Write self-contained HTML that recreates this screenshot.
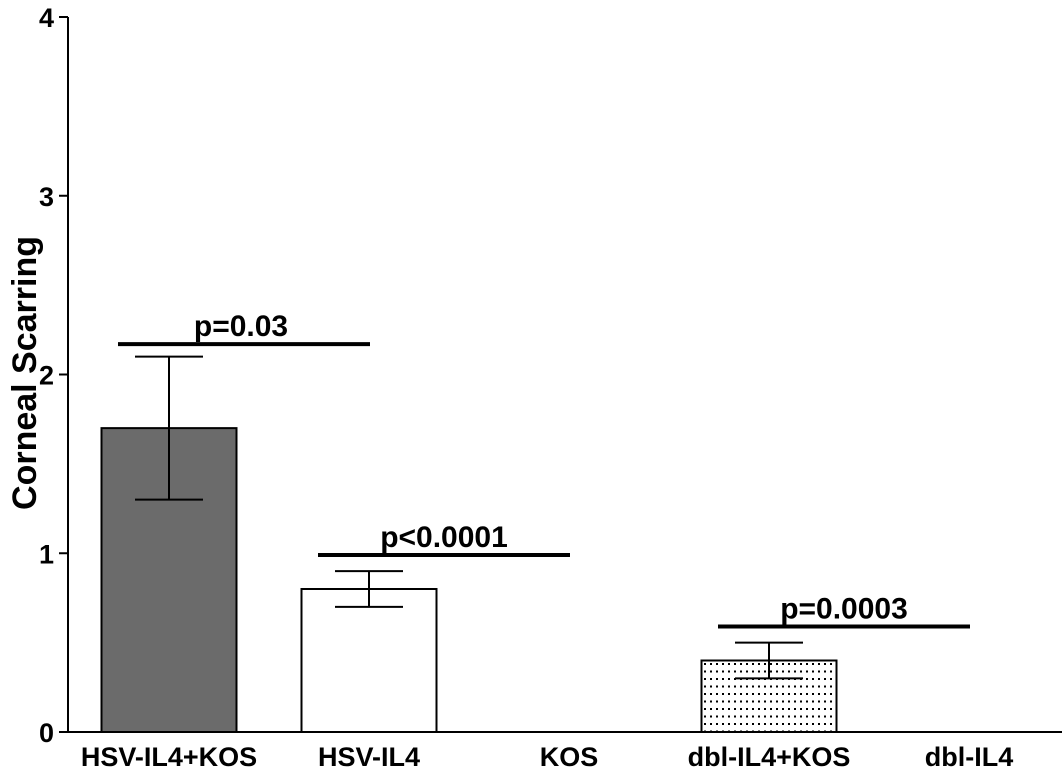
<!DOCTYPE html>
<html><head><meta charset="utf-8"><style>
html,body{margin:0;padding:0;background:#fff;}
svg{display:block;font-family:"Liberation Sans",Arial,sans-serif;font-weight:bold;}
</style></head><body>
<svg id="chart" width="1062" height="771" viewBox="0 0 1062 771">
<defs>
<pattern id="dots" width="6" height="7.5" patternUnits="userSpaceOnUse">
<rect x="2" y="3" width="2" height="2" fill="#000"/>
</pattern>
</defs>
</svg>
<script>
const categories=["HSV-IL4+KOS","HSV-IL4","KOS","dbl-IL4+KOS","dbl-IL4"];
const values=[1.7,0.8,0,0.4,0];
const errLow=[1.3,0.7,0,0.3,0];
const errHigh=[2.1,0.9,0,0.5,0];
const fills=["#6b6b6b","#fff","#fff","url(#dots)","#fff"];
const yTicks=[0,1,2,3,4];
const sigLabels=["p=0.03","p<0.0001","p=0.0003"];
const sigFrom=[0,1,3];
const sigTo=[1,2,4];
const sigY=[2.17,0.99,0.59];

const NS="http://www.w3.org/2000/svg";
const svg=document.getElementById('chart');
const x0=68,y0=732,yTop=17,ymax=4;
const y=v=>y0-(v/ymax)*(y0-yTop);
const step=200,firstC=169;
const xc=i=>firstC+i*step;
const bw=135;
function el(t,a,txt){const e=document.createElementNS(NS,t);for(const k in a)e.setAttribute(k,a[k]);if(txt!==undefined)e.textContent=txt;svg.appendChild(e);return e;}

categories.forEach((c,i)=>{
  if(values[i]>0){
    const b=el('rect',{x:xc(i)-bw/2,y:y(values[i]),width:bw,height:y0-y(values[i]),fill:fills[i],stroke:'#000','stroke-width':2});
    
    
    const g=el('path',{d:`M${xc(i)},${y(errLow[i])}V${y(errHigh[i])}M${xc(i)-34},${y(errLow[i])}h68M${xc(i)-34},${y(errHigh[i])}h68`,stroke:'#000','stroke-width':2,fill:'none'});
    
    
  }
  const t=el('text',{x:xc(i),y:766,'text-anchor':'middle','font-size':27},c);
  
  
});
const ax=el('path',{d:`M${x0},${yTop}V${y0}H1062`,stroke:'#000','stroke-width':2,fill:'none'});


yTicks.forEach(v=>{
  const tk=el('line',{x1:x0-9,x2:x0,y1:y(v),y2:y(v),stroke:'#000','stroke-width':2});
  
  
  const t=el('text',{x:x0-14,y:y(v)+10,'text-anchor':'end','font-size':27},String(v));
  
  
});
sigLabels.forEach((s,i)=>{
  const xa=xc(sigFrom[i])-51,xb=xc(sigTo[i])+1;
  const l=el('line',{x1:xa,x2:xb,y1:y(sigY[i]),y2:y(sigY[i]),stroke:'#000','stroke-width':4});
  
  
  const t=el('text',{x:(xa+xb)/2+(i===0?-3:0),y:y(sigY[i])-8,'text-anchor':'middle','font-size':30},s);
  
  
});
const yt=el('text',{x:0,y:0,transform:'translate(36,373) rotate(-90)','text-anchor':'middle','font-size':34},'Corneal Scarring');


</script>
</body></html>
